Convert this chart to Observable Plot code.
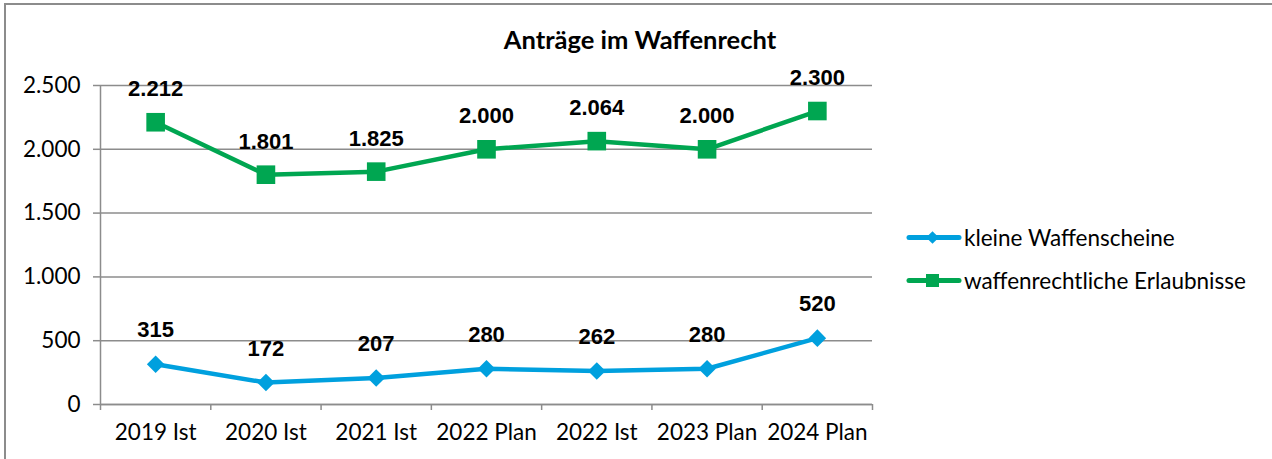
<!DOCTYPE html>
<html>
<head>
<meta charset="utf-8">
<script src="https://cdn.jsdelivr.net/npm/d3@7"></script>
<script src="https://cdn.jsdelivr.net/npm/@observablehq/plot@0.6"></script>
<style>
  html, body { margin: 0; padding: 0; background: #fff; overflow: hidden; }
  #wrap { position: relative; width: 1272px; height: 459px; overflow: hidden; }
  #frame { position: absolute; left: 4px; top: 3px; width: 1300px; height: 500px; border: 2px solid #8c8c8c; box-sizing: border-box; pointer-events: none; }
  #title { position: absolute; left: 0; width: 1280px; top: 24px; text-align: center; font: bold 25.5px Lato, sans-serif; color: #000; }
  #chart { position: absolute; left: 0; top: 0; }
  .leg { position: absolute; left: 906px; font: 22.5px Lato, sans-serif; color: #000; display: flex; align-items: center; white-space: nowrap; }
  .leg svg { margin-right: 2px; }
</style>
</head>
<body>
<div id="wrap">
  <div id="chart"></div>
  <div id="title">Anträge im Waffenrecht</div>
  <div id="legend"></div>
  <div id="frame"></div>
</div>
<script>
const categories = ["2019 Ist", "2020 Ist", "2021 Ist", "2022 Plan", "2022 Ist", "2023 Plan", "2024 Plan"];
const kleineWaffenscheine = [315, 172, 207, 280, 262, 280, 520];
const erlaubnisse = [2212, 1801, 1825, 2000, 2064, 2000, 2300];
const seriesNames = ["kleine Waffenscheine", "waffenrechtliche Erlaubnisse"];
const yTicks = [0, 500, 1000, 1500, 2000, 2500];

const colors = { blue: "#00A0DE", green: "#00A651" };

const rowsBlue = categories.map((c, i) => ({ i, cat: c, v: kleineWaffenscheine[i] }));
const rowsGreen = categories.map((c, i) => ({ i, cat: c, v: erlaubnisse[i] }));

const de = d => d3.format(",")(d).replace(/,/g, ".");
const idx = d3.range(categories.length);
const bounds = d3.range(categories.length + 1).map(k => k - 0.5);

const chart = Plot.plot({
  width: 1272,
  height: 459,
  marginLeft: 100,
  marginRight: 400,
  marginTop: 85,
  marginBottom: 55,
  style: { fontFamily: "Lato, sans-serif", fontSize: "22.5px", color: "#000", background: "transparent" },
  x: { type: "linear", domain: [-0.5, categories.length - 0.5] },
  y: { domain: [0, 2500] },
  marks: [
    Plot.gridY(yTicks, { stroke: "#8c8c8c", strokeOpacity: 1, strokeWidth: 1.5 }),
    Plot.ruleX([-0.5], { stroke: "#8c8c8c", strokeWidth: 1.5 }),
    Plot.ruleY([0], { stroke: "#8c8c8c", strokeWidth: 1.5 }),
    Plot.axisY(yTicks, { tickFormat: de, tickSize: 7, tickPadding: 13, stroke: "#8c8c8c", strokeWidth: 1.5, fontSize: 22.5, label: null }),
    Plot.axisX(bounds, { tickFormat: () => "", tickSize: 6, stroke: "#8c8c8c", strokeWidth: 1.5, label: null }),
    Plot.axisX(idx, { tickFormat: i => categories[i], tickSize: 0, tickPadding: 20, fontSize: 22.5, label: null }),
    Plot.lineY(rowsGreen, { x: "i", y: "v", stroke: colors.green, strokeWidth: 4.5 }),
    Plot.dot(rowsGreen, { x: "i", y: "v", symbol: "square", r: 10.5, fill: colors.green, stroke: null }),
    Plot.lineY(rowsBlue, { x: "i", y: "v", stroke: colors.blue, strokeWidth: 4.5 }),
    Plot.dot(rowsBlue, { x: "i", y: "v", symbol: "square", r: 7, rotate: 45, fill: colors.blue, stroke: null }),
    Plot.text(rowsGreen, { x: "i", y: "v", text: d => de(d.v), dy: -33, fontFamily: "Liberation Sans, Arial, sans-serif", fontWeight: "bold", fontSize: 22, fill: "#000" }),
    Plot.text(rowsBlue, { x: "i", y: "v", text: d => de(d.v), dy: -34, fontFamily: "Liberation Sans, Arial, sans-serif", fontWeight: "bold", fontSize: 22, fill: "#000" })
  ]
});
document.getElementById("chart").appendChild(chart);

// Legend
const legend = document.getElementById("legend");
const legItems = [
  { name: seriesNames[0], color: colors.blue, shape: "diamond", top: 224 },
  { name: seriesNames[1], color: colors.green, shape: "square", top: 267 }
];
for (const it of legItems) {
  const div = document.createElement("div");
  div.className = "leg";
  div.style.top = it.top + "px";
  const marker = it.shape === "diamond"
    ? `<rect x="22" y="6" width="9" height="9" transform="rotate(45 26.5 10.5)" fill="${it.color}"/>`
    : `<rect x="20" y="4" width="13" height="13" fill="${it.color}"/>`;
  div.innerHTML = `<svg width="56" height="21"><line x1="3" x2="53" y1="10.5" y2="10.5" stroke="${it.color}" stroke-width="5" stroke-linecap="round"/>${marker}</svg><span>${it.name}</span>`;
  legend.appendChild(div);
}
</script>
</body>
</html>
